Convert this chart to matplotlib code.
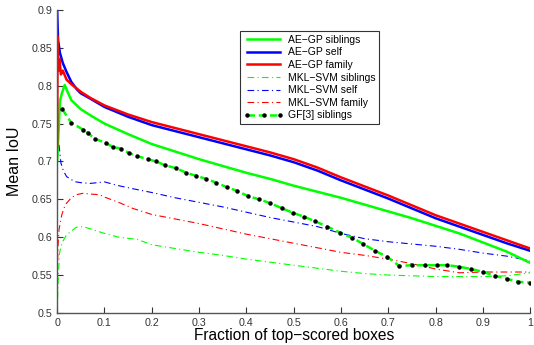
import matplotlib
matplotlib.use("Agg")
import matplotlib.pyplot as plt
from matplotlib.lines import Line2D

plt.rcParams['font.family'] = ['Liberation Sans', 'DejaVu Sans']

# AE-GP self (blue solid)
ae_self_x = [0, 0.002, 0.006, 0.012, 0.02, 0.03, 0.042, 0.05, 0.07, 0.1, 0.15, 0.2, 0.25, 0.3,
             0.35, 0.4, 0.45, 0.5, 0.55, 0.6, 0.65, 0.7, 0.75, 0.8, 0.85, 0.9, 0.95, 1.0]
ae_self_y = [0.9, 0.86, 0.843, 0.83, 0.818, 0.805, 0.795, 0.79, 0.783, 0.772, 0.759, 0.748, 0.740, 0.732,
             0.724, 0.716, 0.708, 0.699, 0.688, 0.675, 0.663, 0.651, 0.638, 0.625, 0.614, 0.603, 0.592, 0.582]

# AE-GP family (red solid)
ae_fam_x = [0, 0.001, 0.003, 0.005, 0.008, 0.012, 0.02, 0.03, 0.05, 0.07, 0.1, 0.15, 0.2, 0.25, 0.3,
            0.35, 0.4, 0.45, 0.5, 0.55, 0.6, 0.65, 0.7, 0.75, 0.8, 0.85, 0.9, 0.95, 1.0]
ae_fam_y = [0.72, 0.865, 0.82, 0.835, 0.815, 0.82, 0.808, 0.802, 0.792, 0.784, 0.774, 0.762, 0.752, 0.744, 0.736,
            0.728, 0.720, 0.712, 0.703, 0.692, 0.679, 0.667, 0.655, 0.642, 0.629, 0.618, 0.607, 0.596, 0.585]

# AE-GP siblings (green solid)
ae_sib_x = [0, 0.003, 0.006, 0.01, 0.016, 0.022, 0.03, 0.05, 0.07, 0.1, 0.15, 0.2, 0.25, 0.3,
            0.35, 0.4, 0.45, 0.5, 0.55, 0.6, 0.65, 0.7, 0.75, 0.8, 0.85, 0.9, 0.95, 1.0]
ae_sib_y = [0.70, 0.74, 0.78, 0.79, 0.801, 0.792, 0.781, 0.769, 0.761, 0.750, 0.736, 0.723, 0.713, 0.703,
            0.694, 0.685, 0.677, 0.668, 0.660, 0.652, 0.643, 0.634, 0.625, 0.615, 0.605, 0.593, 0.581, 0.566]

# MKL-SVM siblings (green dash-dot)
mkl_sib_x = [0.0, 0.002, 0.005, 0.01, 0.015, 0.02, 0.03, 0.04, 0.055, 0.07, 0.1, 0.13, 0.17, 0.2, 0.25,
             0.3, 0.35, 0.4, 0.45, 0.5, 0.55, 0.6, 0.65, 0.7, 0.75, 0.8, 0.85, 0.9, 0.95, 1.0]
mkl_sib_y = [0.50, 0.54, 0.579, 0.592, 0.598, 0.603, 0.608, 0.613, 0.614, 0.611, 0.605, 0.600, 0.597, 0.590, 0.585,
             0.580, 0.576, 0.571, 0.567, 0.563, 0.559, 0.555, 0.552, 0.550, 0.549, 0.548, 0.548, 0.548, 0.549, 0.553]

# MKL-SVM self (blue dash-dot)
mkl_self_x = [0.004, 0.008, 0.013, 0.02, 0.03, 0.04, 0.05, 0.07, 0.1, 0.13, 0.16, 0.2, 0.25, 0.3,
              0.35, 0.4, 0.45, 0.5, 0.55, 0.6, 0.65, 0.7, 0.75, 0.8, 0.85, 0.9, 0.95, 1.0]
mkl_self_y = [0.722, 0.698, 0.688, 0.680, 0.676, 0.673, 0.672, 0.671, 0.673, 0.668, 0.664, 0.659, 0.652, 0.646,
              0.640, 0.633, 0.626, 0.620, 0.614, 0.605, 0.598, 0.594, 0.591, 0.588, 0.584, 0.579, 0.575, 0.569]

# MKL-SVM family (red dash-dot)
mkl_fam_x = [0.0, 0.002, 0.004, 0.007, 0.01, 0.015, 0.02, 0.03, 0.04, 0.055, 0.07, 0.09, 0.1, 0.13, 0.16,
             0.2, 0.25, 0.3, 0.35, 0.4, 0.45, 0.5, 0.55, 0.6, 0.65, 0.7, 0.75, 0.8, 0.85, 0.9, 0.95, 1.0]
mkl_fam_y = [0.55, 0.59, 0.61, 0.62, 0.630, 0.639, 0.645, 0.652, 0.656, 0.658, 0.657, 0.656, 0.653, 0.646, 0.638,
             0.630, 0.624, 0.618, 0.611, 0.604, 0.598, 0.592, 0.586, 0.580, 0.576, 0.571, 0.565, 0.558, 0.553,
             0.554, 0.554, 0.554]

# GF[3] siblings (green dashed with black dots)
gf_x = [0.011, 0.030, 0.055, 0.066, 0.080, 0.104, 0.118, 0.135, 0.152, 0.169, 0.192, 0.209, 0.228, 0.252,
        0.273, 0.294, 0.315, 0.336, 0.359, 0.381, 0.404, 0.427, 0.450, 0.476, 0.499, 0.522, 0.545, 0.571,
        0.598, 0.624, 0.647, 0.672, 0.698, 0.723, 0.751, 0.778, 0.803, 0.825, 0.850, 0.875, 0.901, 0.926,
        0.951, 0.975, 1.0]
gf_y = [0.769, 0.751, 0.742, 0.737, 0.730, 0.724, 0.719, 0.717, 0.711, 0.707, 0.703, 0.700, 0.695, 0.691,
        0.685, 0.681, 0.677, 0.672, 0.666, 0.661, 0.654, 0.650, 0.645, 0.638, 0.632, 0.627, 0.621, 0.614,
        0.606, 0.599, 0.591, 0.582, 0.574, 0.562, 0.563, 0.563, 0.563, 0.563, 0.561, 0.558, 0.554, 0.549,
        0.545, 0.541, 0.540]

labels = ["AE\u2212GP siblings", "AE\u2212GP self", "AE\u2212GP family",
          "MKL\u2212SVM siblings", "MKL\u2212SVM self", "MKL\u2212SVM family", "GF[3] siblings"]

xticks = [0, 0.1, 0.2, 0.3, 0.4, 0.5, 0.6, 0.7, 0.8, 0.9, 1]
xticklabels = ["0", "0.1", "0.2", "0.3", "0.4", "0.5", "0.6", "0.7", "0.8", "0.9", "1"]
yticks = [0.5, 0.55, 0.6, 0.65, 0.7, 0.75, 0.8, 0.85, 0.9]
yticklabels = ["0.5", "0.55", "0.6", "0.65", "0.7", "0.75", "0.8", "0.85", "0.9"]

GREEN = (0.0, 1.0, 0.0)
BLUE = (0.0, 0.0, 1.0)
RED = (1.0, 0.0, 0.0)

fig = plt.figure(figsize=(5.34, 3.45), dpi=100)
ax = fig.add_axes([0.107, 0.093, 0.886, 0.878])

dd = (0, (6, 3, 1, 3))
gfdash = (0, (3, 1.5))
ax.plot(mkl_sib_x, mkl_sib_y, color=GREEN, lw=0.8, linestyle=dd)
ax.plot(mkl_fam_x, mkl_fam_y, color=RED, lw=0.8, linestyle=dd)
ax.plot(mkl_self_x, mkl_self_y, color=BLUE, lw=0.8, linestyle=dd)
ax.plot(ae_sib_x, ae_sib_y, color=GREEN, lw=1.8)
ax.plot(gf_x, gf_y, color=GREEN, lw=1.8, linestyle=gfdash)
ax.plot(gf_x, gf_y, linestyle='none', marker='o', ms=2.2, color='black')
ax.plot(ae_self_x, ae_self_y, color=BLUE, lw=1.8)
ax.plot(ae_fam_x, ae_fam_y, color=RED, lw=1.8)

ax.set_xlim(0, 1)
ax.set_ylim(0.5, 0.9)
ax.set_xticks(xticks)
ax.set_xticklabels(xticklabels)
ax.set_yticks(yticks)
ax.set_yticklabels(yticklabels)
ax.tick_params(direction='in', length=4, labelsize=7.7, colors='#333333', width=0.8)
for s in ['top', 'right']:
    ax.spines[s].set_visible(False)
for s in ['left', 'bottom']:
    ax.spines[s].set_color('#555555')
    ax.spines[s].set_linewidth(1.0)
ax.set_xlabel("Fraction of top\u2212scored boxes", fontsize=11.2, labelpad=0)
ax.set_ylabel("Mean IoU", fontsize=11.5, labelpad=7)

handles = [
    Line2D([], [], color=GREEN, lw=1.8),
    Line2D([], [], color=BLUE, lw=1.8),
    Line2D([], [], color=RED, lw=1.8),
    Line2D([], [], color=GREEN, lw=0.8, linestyle=dd),
    Line2D([], [], color=BLUE, lw=0.8, linestyle=dd),
    Line2D([], [], color=RED, lw=0.8, linestyle=dd),
    Line2D([], [], color=GREEN, lw=1.8, linestyle=gfdash, marker='o', ms=2.2,
           mfc='black', mec='black'),
]
leg = ax.legend(handles, labels, loc='upper left', bbox_to_anchor=(0.387, 0.93),
                fontsize=7.5, handlelength=3.8, handletextpad=0.4, labelspacing=0.25,
                borderpad=0.35, fancybox=False, frameon=True, borderaxespad=0, numpoints=3)
leg.get_frame().set_edgecolor('black')
leg.get_frame().set_linewidth(0.8)

fig.savefig("out.png", dpi=100)
